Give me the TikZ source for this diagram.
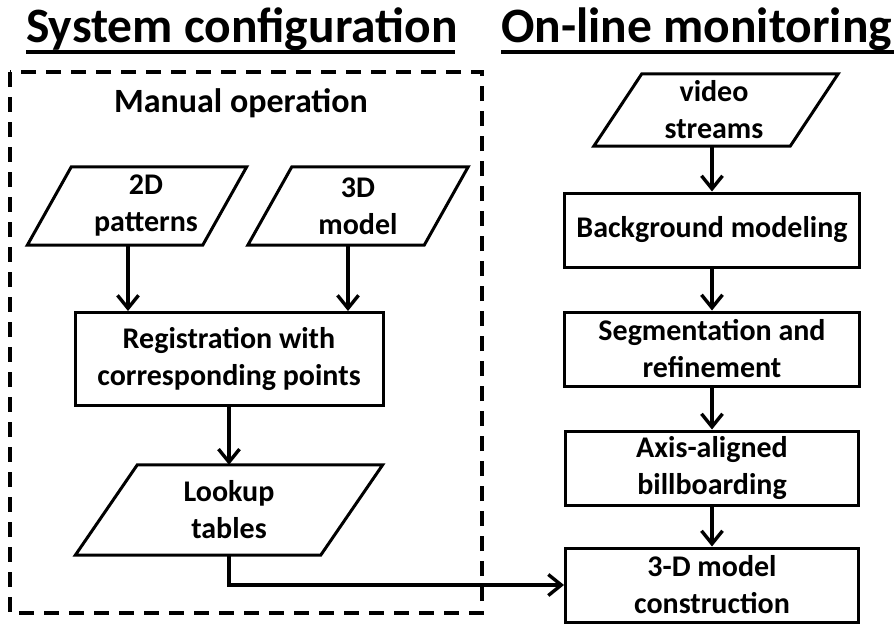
\documentclass[tikz,border=0pt]{standalone}
\usepackage{fontspec}
\setmainfont{Carlito}
\usetikzlibrary{arrows.meta}
\begin{document}
\begin{tikzpicture}[x=1pt,y=-1pt,
  txt/.style={font=\fontsize{30}{37}\selectfont\bfseries, align=center},
  ttl/.style={font=\fontsize{49.5}{58}\selectfont\bfseries, inner sep=0pt},
  box/.style={txt, draw, line width=3pt, inner sep=0pt},
  io/.style={txt, inner sep=0pt},
  para/.style={draw, line width=3pt, line join=miter},
  arr/.style={line width=3.4pt, -{Straight Barb[length=13pt,width=21pt,line width=3.4pt]}},
  uline/.style={line width=3.4pt},
  dashbox/.style={line width=3.8pt, dash pattern=on 15pt off 10pt},
]
\useasboundingbox (0,0) rectangle (894,624);

% titles
\node[ttl, anchor=base west] (t1) at (26,42) {System configuration};
\node[ttl, anchor=base west] (t2) at (501,42) {On-line monitoring};
\draw[uline] (26,52) -- (455,52);
\draw[uline] (501,52) -- (894,52);

% dashed frame
\draw[dashbox] (10,72) rectangle (482,613);
\node[txt, font=\fontsize{34}{40}\selectfont\bfseries] (man) at (241,103) {Manual operation};

% left column
\node[io, minimum width=175, minimum height=78] (p2d) at (146,206) {2D\\patterns};
\draw[para] ([xshift=13pt]p2d.north west) -- ([xshift=13pt]p2d.north east) -- ([xshift=-31pt]p2d.south east) -- ([xshift=-31pt]p2d.south west) -- cycle;
\node[io, minimum width=176, minimum height=78] (p3d) at (358,206) {3D\\model};
\draw[para] ([xshift=22pt]p3d.north west) -- ([xshift=22pt]p3d.north east) -- ([xshift=-22pt]p3d.south east) -- ([xshift=-22pt]p3d.south west) -- cycle;
\node[box, minimum width=308, minimum height=93] (reg) at (229,359) {Registration with\\corresponding points};
\node[io, minimum width=245, minimum height=90] (lk) at (229,510) {Lookup\\tables};
\draw[para] ([xshift=31pt]lk.north west) -- ([xshift=31pt]lk.north east) -- ([xshift=-31pt]lk.south east) -- ([xshift=-31pt]lk.south west) -- cycle;

% right column
\node[io, minimum width=196, minimum height=72] (vs) at (714,110) {video\\streams};
\draw[para] ([xshift=26pt]vs.north west) -- ([xshift=26pt]vs.north east) -- ([xshift=-22pt]vs.south east) -- ([xshift=-22pt]vs.south west) -- cycle;
\node[box, minimum width=295, minimum height=74] (bg) at (712,230) {Background modeling};
\node[box, minimum width=295, minimum height=74] (seg) at (712,349) {Segmentation and\\refinement};
\node[box, minimum width=293, minimum height=74] (axis) at (712,468) {Axis-aligned\\billboarding};
\node[box, minimum width=293, minimum height=74] (cons) at (712,585) {3-D model\\construction};

% connectors
\draw[arr] (p2d.south -| 128,0) -- (reg.north -| 128,0);
\draw[arr] (p3d.south -| 348,0) -- (reg.north -| 348,0);
\draw[arr] (reg.south) -- (lk.north);
\draw[arr] (vs.south -| bg.north) -- (bg.north);
\draw[arr] (bg.south) -- (seg.north);
\draw[arr] (seg.south) -- (axis.north);
\draw[arr] (axis.south) -- (cons.north);
\draw[arr] (lk.south) |- (cons.west);
\end{tikzpicture}
\end{document}
